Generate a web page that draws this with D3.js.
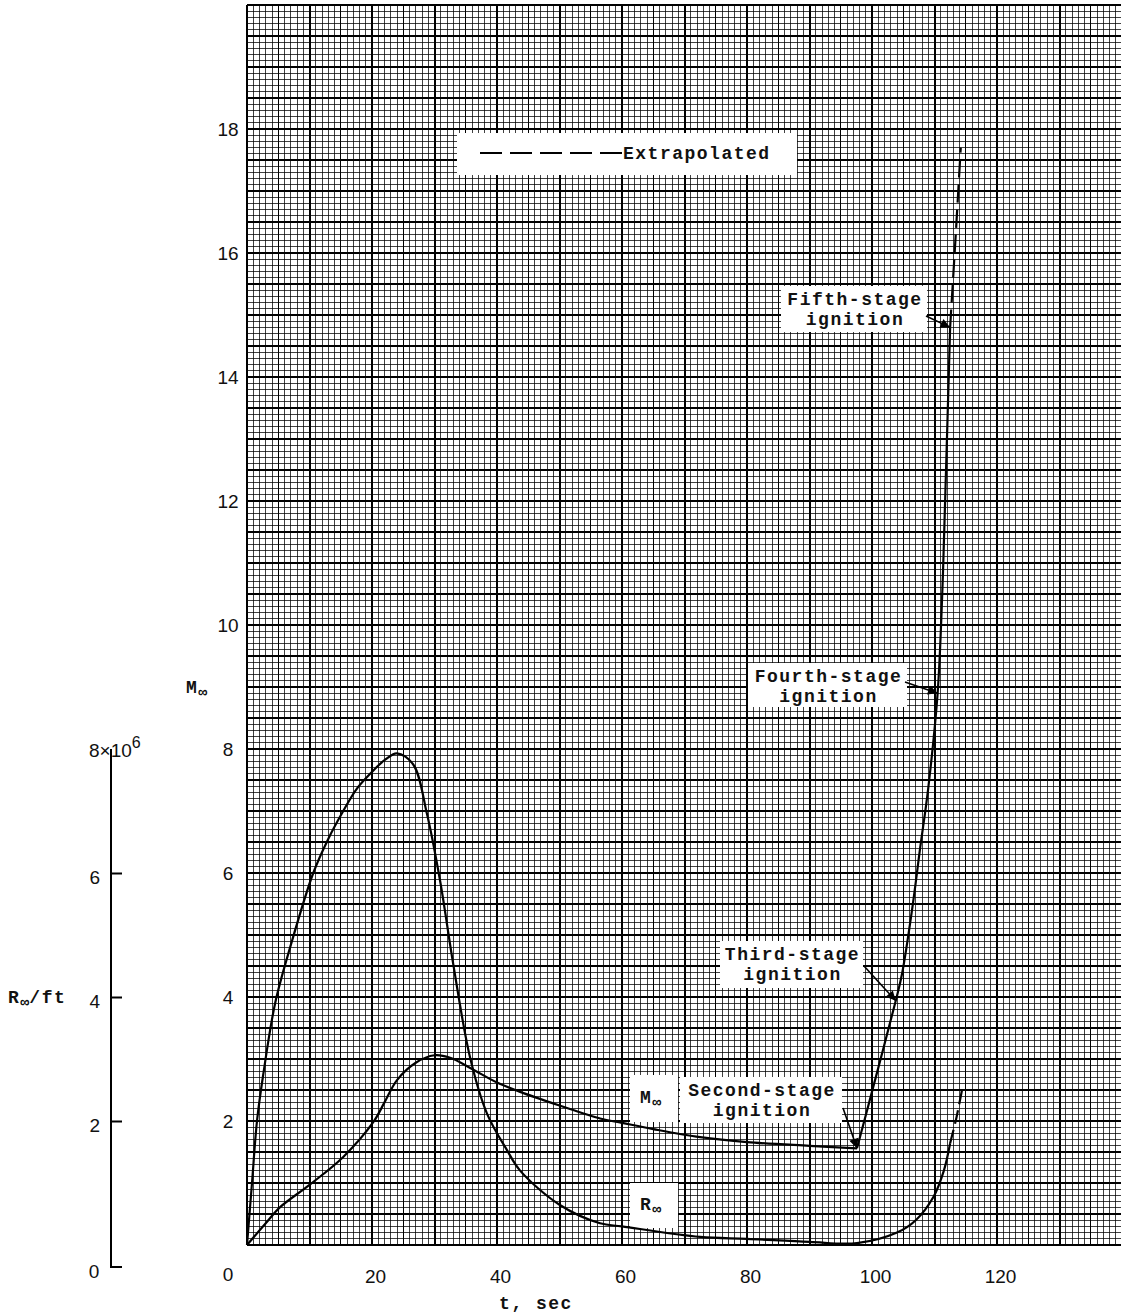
<!DOCTYPE html>
<html>
<head>
<meta charset="utf-8">
<script src="https://cdn.jsdelivr.net/npm/d3@7"></script>
<style>
  body { margin: 0; background: #fff; }
  svg { display: block; }
  .num { font-family: "Liberation Sans", Arial, sans-serif; font-size: 19px; fill: #111; }
  .tw { font-family: "Liberation Mono", "DejaVu Sans Mono", monospace; font-size: 18px; font-weight: bold; letter-spacing: 1.5px; fill: #111; }
</style>
</head>
<body>
<div id="chart"></div>
<script>
// free-stream Mach number, coasting after first stage (t in sec)
var coastT = [0, 3, 5.3, 10, 15.4, 20.2, 22, 24, 27, 30, 32.5, 36, 40, 43.7, 50, 56.5, 60, 65, 72.5, 80, 90, 97.6];
var coastM = [0, 0.35, 0.61, 0.97, 1.42, 1.98, 2.3, 2.66, 2.94, 3.06, 3.02, 2.84, 2.62, 2.47, 2.25, 2.04, 1.97, 1.87, 1.74, 1.66, 1.6, 1.56];
// upper stages burning
var boostT = [97.6, 100.2, 103.8, 104.8, 106.4, 107.7, 109, 110.5, 111.2, 111.7, 112.5];
var boostM = [1.56, 2.55, 3.94, 4.37, 5.4, 6.4, 7.37, 8.9, 10.4, 12.0, 14.8];
var machExT = [112.5, 113.4, 114.2];
var machExM = [14.8, 16.3, 17.7];

// free-stream Reynolds number per foot, millions
var reT = [0, 0.8, 1.6, 2.6, 4.5, 6.9, 10.6, 13, 15.4, 17.5, 19.7, 22, 24, 26.6, 28.8, 30.9, 33, 35.7, 38.4, 41.6, 43.7, 50, 56.5, 60, 72.5, 80, 90, 97.6, 104, 107, 109.8, 111.5, 112.5];
var reV = [0, 1.0, 2.0, 2.75, 3.9, 4.8, 6.0, 6.55, 7.0, 7.35, 7.6, 7.82, 7.93, 7.75, 6.95, 5.87, 4.53, 3.02, 2.12, 1.53, 1.2, 0.65, 0.35, 0.3, 0.13, 0.1, 0.05, 0.03, 0.2, 0.4, 0.77, 1.2, 1.64];
var reExT = [112.5, 113.5, 114.4];
var reExV = [1.64, 2.05, 2.5];

var machTicks = [2, 4, 6, 8, 10, 12, 14, 16, 18];
var timeTicks = [20, 40, 60, 80, 100, 120];
var reTicks = [2, 4, 6];

var noteText = [
  ["Fifth-stage", "ignition"],
  ["Fourth-stage", "ignition"],
  ["Third-stage", "ignition"],
  ["Second-stage", "ignition"]
];
var noteAt = [[112.5, 14.8], [110.5, 8.9], [103.8, 3.94], [97.6, 1.56]];
// label boxes (left, top, right, bottom) and where the leader starts
var noteBox = [[781, 286, 927, 332], [748, 663, 907, 707], [720, 941, 863, 988], [680, 1077, 842, 1123]];
var noteFrom = [[926, 316], [905, 682], [864, 966], [843, 1108]];

var svg = d3.select("#chart").append("svg").attr("width", 1121).attr("height", 1315);

var x = d3.scaleLinear().domain([0, 140]).range([247, 1122]);
var y = d3.scaleLinear().domain([0, 20]).range([1245, 5]);
var yR = d3.scaleLinear().domain([0, 8]).range([1245, 749]);

svg.append("defs").append("marker")
    .attr("id", "tip").attr("viewBox", "0 0 10 10")
    .attr("refX", 10).attr("refY", 5)
    .attr("markerWidth", 8).attr("markerHeight", 6)
    .attr("orient", "auto")
  .append("path").attr("d", "M0,0L10,5L0,10z").attr("fill", "#000");

// graph paper
var grid = svg.append("g").attr("shape-rendering", "crispEdges").attr("stroke", "#000");
function weight(i) { return i % 10 === 0 ? 2 : (i % 5 === 0 ? 1.4 : 1); }
function order(a, b) { return weight(a) - weight(b); }
var vx = d3.range(0, 141).sort(order);
var hy = d3.range(0, 201).sort(order);
grid.selectAll(".v").data(vx).join("line").attr("class", "v")
    .attr("x1", d => x(d)).attr("x2", d => x(d))
    .attr("y1", y(20)).attr("y2", y(0))
    .attr("stroke-width", weight)
    .attr("stroke-opacity", d => weight(d) === 1 ? 0.75 : 1);
grid.selectAll(".h").data(hy).join("line").attr("class", "h")
    .attr("y1", d => y(d / 10)).attr("y2", d => y(d / 10))
    .attr("x1", x(0)).attr("x2", x(140))
    .attr("stroke-width", weight)
    .attr("stroke-opacity", d => weight(d) === 1 ? 0.75 : 1);

// white label boxes
svg.append("rect").attr("x", 457).attr("y", 133).attr("width", 340).attr("height", 42).attr("fill", "#fff");
noteBox.forEach(function (b) {
  svg.append("rect").attr("x", b[0]).attr("y", b[1]).attr("width", b[2] - b[0]).attr("height", b[3] - b[1]).attr("fill", "#fff");
});
svg.append("rect").attr("x", 630).attr("y", 1075).attr("width", 48).attr("height", 47).attr("fill", "#fff");
svg.append("rect").attr("x", 630).attr("y", 1183).attr("width", 48).attr("height", 45).attr("fill", "#fff");

// curves
var line = d3.line().x(d => x(d[0])).y(d => y(d[1])).curve(d3.curveCatmullRom.alpha(0.5));
function pairs(a, b) { return a.map((v, i) => [v, b[i]]); }
var curves = svg.append("g").attr("fill", "none").attr("stroke", "#000").attr("stroke-width", 2.2)
    .attr("stroke-linejoin", "round");
curves.append("path").attr("d", line(pairs(coastT, coastM)));
curves.append("path").attr("d", line(pairs(boostT, boostM)));
curves.append("path").attr("d", line(pairs(reT, reV)));
curves.append("path").attr("d", line(pairs(machExT, machExM))).attr("stroke-dasharray", "18,7");
curves.append("path").attr("d", line(pairs(reExT, reExV))).attr("stroke-dasharray", "14,6");

// legend
svg.append("line").attr("x1", 480).attr("x2", 622).attr("y1", 153).attr("y2", 153)
    .attr("stroke", "#000").attr("stroke-width", 2).attr("stroke-dasharray", "22,8");
svg.append("text").attr("class", "tw").attr("x", 623).attr("y", 153).attr("dy", "0.35em").text("Extrapolated");

// stage notes
noteText.forEach(function (t, i) {
  var b = noteBox[i], cx = (b[0] + b[2]) / 2;
  svg.append("text").attr("class", "tw").attr("text-anchor", "middle")
      .attr("x", cx + 1).attr("y", b[1] + 13).attr("dy", "0.35em").text(t[0]);
  svg.append("text").attr("class", "tw").attr("text-anchor", "middle")
      .attr("x", cx + 1).attr("y", b[1] + 33).attr("dy", "0.35em").text(t[1]);
  svg.append("line")
      .attr("x1", noteFrom[i][0]).attr("y1", noteFrom[i][1])
      .attr("x2", x(noteAt[i][0])).attr("y2", y(noteAt[i][1]))
      .attr("stroke", "#000").attr("stroke-width", 1.6)
      .attr("marker-end", "url(#tip)");
});

function subLabel(px, py, main, rest) {
  var t = svg.append("text").attr("class", "tw").attr("x", px).attr("y", py).attr("dy", "0.35em");
  t.append("tspan").text(main);
  t.append("tspan").attr("font-size", "15px").attr("dy", "4").attr("letter-spacing", "0").text("\u221e");
  if (rest) t.append("tspan").attr("dy", "-4").text(rest);
  return t;
}
subLabel(640, 1097, "M");
subLabel(640, 1204, "R");
subLabel(186, 687, "M");
subLabel(8, 997, "R", "/ft");

// Mach axis labels
var mAxis = svg.append("g").attr("transform", "translate(228,0)")
    .call(d3.axisLeft(y).tickValues(machTicks).tickSize(0).tickPadding(0));
mAxis.select(".domain").remove();
mAxis.selectAll("text").attr("class", "num").attr("text-anchor", "middle").attr("x", 0).attr("dy", "0.36em");

// time axis labels
var tAxis = svg.append("g").attr("transform", "translate(3,1276)")
    .call(d3.axisBottom(x).tickValues(timeTicks).tickSize(0).tickPadding(0));
tAxis.select(".domain").remove();
tAxis.selectAll("text").attr("class", "num").attr("y", 0).attr("dy", "0.36em");
svg.append("text").attr("class", "num").attr("x", 228).attr("y", 1274).attr("text-anchor", "middle").attr("dy", "0.36em").text("0");
svg.append("text").attr("class", "tw").attr("x", 536).attr("y", 1303).attr("text-anchor", "middle").attr("dy", "0.35em").text("t, sec");

// Reynolds number axis
var rAxis = svg.append("g").attr("transform", "translate(111,0)")
    .call(d3.axisLeft(yR).tickValues(reTicks).tickSizeInner(-11).tickSizeOuter(0).tickPadding(11));
rAxis.select(".domain").remove();
rAxis.selectAll("line").attr("stroke", "#000").attr("stroke-width", 2);
rAxis.selectAll("text").attr("class", "num").attr("dy", "0.55em");
svg.append("path").attr("d", "M111," + yR(8) + "V1267H122")
    .attr("fill", "none").attr("stroke", "#000").attr("stroke-width", 2);
svg.append("text").attr("class", "num").attr("x", 94).attr("y", 1271).attr("text-anchor", "middle").attr("dy", "0.36em").text("0");
var top8 = svg.append("text").attr("class", "num").attr("x", 89).attr("y", yR(8) + 1).attr("dy", "0.36em");
top8.append("tspan").text("8\u00d710");
top8.append("tspan").attr("font-size", "16px").attr("dy", "-9").text("6");
</script>
</body>
</html>
